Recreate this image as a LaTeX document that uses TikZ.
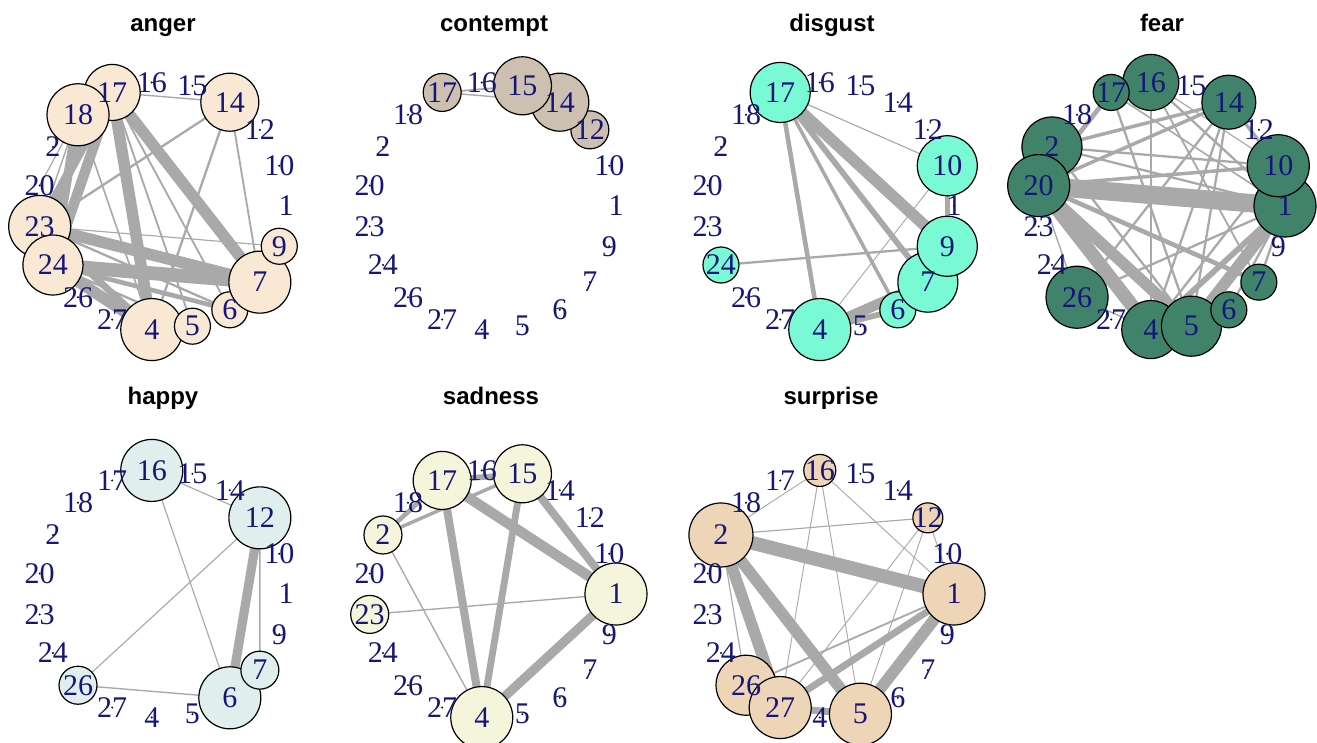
\documentclass[tikz,border=0pt]{standalone}
\usepackage{fontspec}
\setmainfont{Liberation Serif}
\newfontfamily\titlefont{Liberation Sans}
\usetikzlibrary{backgrounds}
\definecolor{labblue}{HTML}{16167A}
\definecolor{edgegray}{HTML}{A9A9A9}
\definecolor{cAnger}{HTML}{F8E8D4}
\definecolor{cContempt}{HTML}{CDC0B0}
\definecolor{cDisgust}{HTML}{7AFAD4}
\definecolor{cFear}{HTML}{40836A}
\definecolor{cHappy}{HTML}{E0EEEE}
\definecolor{cSad}{HTML}{F5F5DC}
\definecolor{cSurprise}{HTML}{EED5B7}
\tikzset{
  vnode/.style={circle, draw=black, line width=0.6pt, inner sep=0pt, outer sep=0pt},
  dotnode/.style={circle, fill=black, draw=none, inner sep=0pt, minimum size=1.1pt},
  lab/.style={inner sep=0pt, text=labblue, font=\fontsize{15}{15}\selectfont},
  ptitle/.style={inner sep=0pt, anchor=base, font=\titlefont\bfseries\fontsize{12}{12}\selectfont},
  edge/.style={draw=edgegray},
}
\def\order{1/0,10/1,12/2,14/3,15/4,16/5,17/6,18/7,2/8,20/9,23/10,24/11,26/12,27/13,4/14,5/15,6/16,7/17,9/18}
\newcommand\setsizes[2]{\foreach \l/\r in {#2}{\expandafter\xdef\csname sz#1-\l\endcsname{\r}}}
\newcommand\drawpanel[4]{%
  \foreach \l/\i in \order {%
    \pgfmathsetmacro\px{#2+124*cos(\i*360/19)}%
    \pgfmathsetmacro\py{#3-124*sin(\i*360/19)}%
    \ifcsname sz#1-\l\endcsname
      \edef\rr{\csname sz#1-\l\endcsname}%
      \node[vnode, fill=#4, minimum size=\rr pt] (#1-\l) at (\px,\py) {};
    \else
      \node[dotnode] (#1-\l) at (\px,\py) {};
    \fi
  }}
\newcommand\labelpanel[1]{\foreach \l/\i in \order {\node[lab] (#1-\l-t) at (#1-\l.center) {\l};}}
\newcommand\E[4]{\draw[edge, line width=1.15*#4pt] (#1-#2.center) -- (#1-#3.center);}

\setsizes{an}{17/28,18/31,14/29,23/31,24/30,9/18,7/31,6/18,5/18,4/31}
\setsizes{co}{17/19,15/29,14/29,12/19}
\setsizes{di}{17/30,10/30,9/30,7/30,6/18,4/31,24/18}
\setsizes{fe}{17/18,16/28,14/27,10/31,1/31,7/18,6/18,5/30,4/29,26/31,20/31,2/30}
\setsizes{ha}{16/31,12/31,7/19,6/31,26/19}
\setsizes{sa}{17/29,15/29,2/19,23/19,1/31,4/31}
\setsizes{su}{16/16,12/15,2/32,1/31,26/30,27/31,5/31}

\begin{document}
\begin{tikzpicture}[x=0.5pt, y=-0.5pt]
\useasboundingbox (0,0) rectangle (1317,743);
\begin{pgfonlayer}{background}
\fill[white] (0,0) rectangle (1317,743);
\end{pgfonlayer}

% vertices
\drawpanel{an}{162}{206}{cAnger}
\drawpanel{co}{492}{206}{cContempt}
\drawpanel{di}{830}{206}{cDisgust}
\drawpanel{fe}{1161}{206}{cFear}
\drawpanel{ha}{162}{594}{cHappy}
\drawpanel{sa}{492}{594}{cSad}
\drawpanel{su}{830}{594}{cSurprise}

% edges
\begin{pgfonlayer}{background}
% anger
\E{an}{17}{7}{5} \E{an}{17}{4}{5} \E{an}{18}{24}{4} \E{an}{17}{23}{4}
\E{an}{17}{24}{4.5} \E{an}{23}{7}{5} \E{an}{24}{7}{6} \E{an}{24}{4}{5}
\E{an}{23}{4}{3} \E{an}{24}{6}{2} \E{an}{23}{9}{0.5} \E{an}{14}{23}{1}
\E{an}{14}{4}{1} \E{an}{14}{7}{0.8} \E{an}{17}{14}{0.6} \E{an}{17}{5}{0.8}
\E{an}{17}{6}{0.8} \E{an}{18}{4}{0.7} \E{an}{18}{23}{0.6} \E{an}{24}{5}{1}
\E{an}{23}{6}{1} \E{an}{18}{20}{0.5}
% contempt
\E{co}{17}{15}{0.8} \E{co}{17}{14}{0.6}
% disgust
\E{di}{17}{9}{5} \E{di}{17}{7}{2.5} \E{di}{17}{6}{1.5} \E{di}{17}{4}{2}
\E{di}{17}{10}{0.5} \E{di}{24}{9}{1} \E{di}{4}{7}{4.5} \E{di}{4}{6}{2.5}
\E{di}{4}{10}{0.4} \E{di}{10}{9}{2}
% fear
\E{fe}{20}{1}{8} \E{fe}{20}{4}{6} \E{fe}{20}{5}{5} \E{fe}{1}{5}{5}
\E{fe}{1}{4}{2.5} \E{fe}{20}{10}{1.5} \E{fe}{20}{14}{1.5} \E{fe}{2}{14}{1.5}
\E{fe}{2}{10}{1} \E{fe}{17}{20}{2} \E{fe}{16}{4}{1} \E{fe}{17}{5}{1}
\E{fe}{16}{1}{1} \E{fe}{14}{4}{1} \E{fe}{14}{5}{1} \E{fe}{14}{26}{1}
\E{fe}{20}{7}{2} \E{fe}{2}{1}{1} \E{fe}{26}{1}{1} \E{fe}{20}{26}{0.6}
\E{fe}{26}{4}{0.6} \E{fe}{1}{6}{1} \E{fe}{1}{7}{1} \E{fe}{14}{10}{1.5}
\E{fe}{16}{10}{0.5} \E{fe}{10}{4}{1} \E{fe}{2}{5}{1} \E{fe}{17}{1}{0.7}
\E{fe}{16}{7}{0.8}
% happy
\E{ha}{12}{6}{4} \E{ha}{12}{7}{0.7} \E{ha}{16}{6}{0.5} \E{ha}{16}{12}{0.5}
\E{ha}{12}{26}{0.5} \E{ha}{26}{6}{0.6}
% sadness
\E{sa}{17}{15}{2.5} \E{sa}{17}{1}{4.5} \E{sa}{15}{1}{3.5} \E{sa}{17}{4}{3.5}
\E{sa}{15}{4}{3} \E{sa}{4}{1}{4} \E{sa}{2}{17}{2} \E{sa}{2}{15}{1.5}
\E{sa}{2}{4}{0.6} \E{sa}{23}{1}{0.6}
% surprise
\E{su}{2}{1}{6} \E{su}{2}{5}{5} \E{su}{2}{27}{5} \E{su}{2}{26}{0.5}
\E{su}{1}{5}{5} \E{su}{1}{27}{3} \E{su}{1}{26}{0.8} \E{su}{27}{5}{3}
\E{su}{16}{2}{0.4} \E{su}{16}{27}{0.4} \E{su}{16}{5}{0.4} \E{su}{16}{1}{0.4}
\E{su}{12}{2}{0.5} \E{su}{12}{27}{0.4} \E{su}{12}{5}{0.4} \E{su}{12}{1}{0.4}
\end{pgfonlayer}

% labels
\labelpanel{an} \labelpanel{co} \labelpanel{di} \labelpanel{fe}
\labelpanel{ha} \labelpanel{sa} \labelpanel{su}

% titles
\node[ptitle] (t-an) at (163,32) {anger};
\node[ptitle] (t-co) at (494,32) {contempt};
\node[ptitle] (t-di) at (832,32) {disgust};
\node[ptitle] (t-fe) at (1162,32) {fear};
\node[ptitle] (t-ha) at (163,404) {happy};
\node[ptitle] (t-sa) at (491,404) {sadness};
\node[ptitle] (t-su) at (831,404) {surprise};
\end{tikzpicture}
\end{document}
